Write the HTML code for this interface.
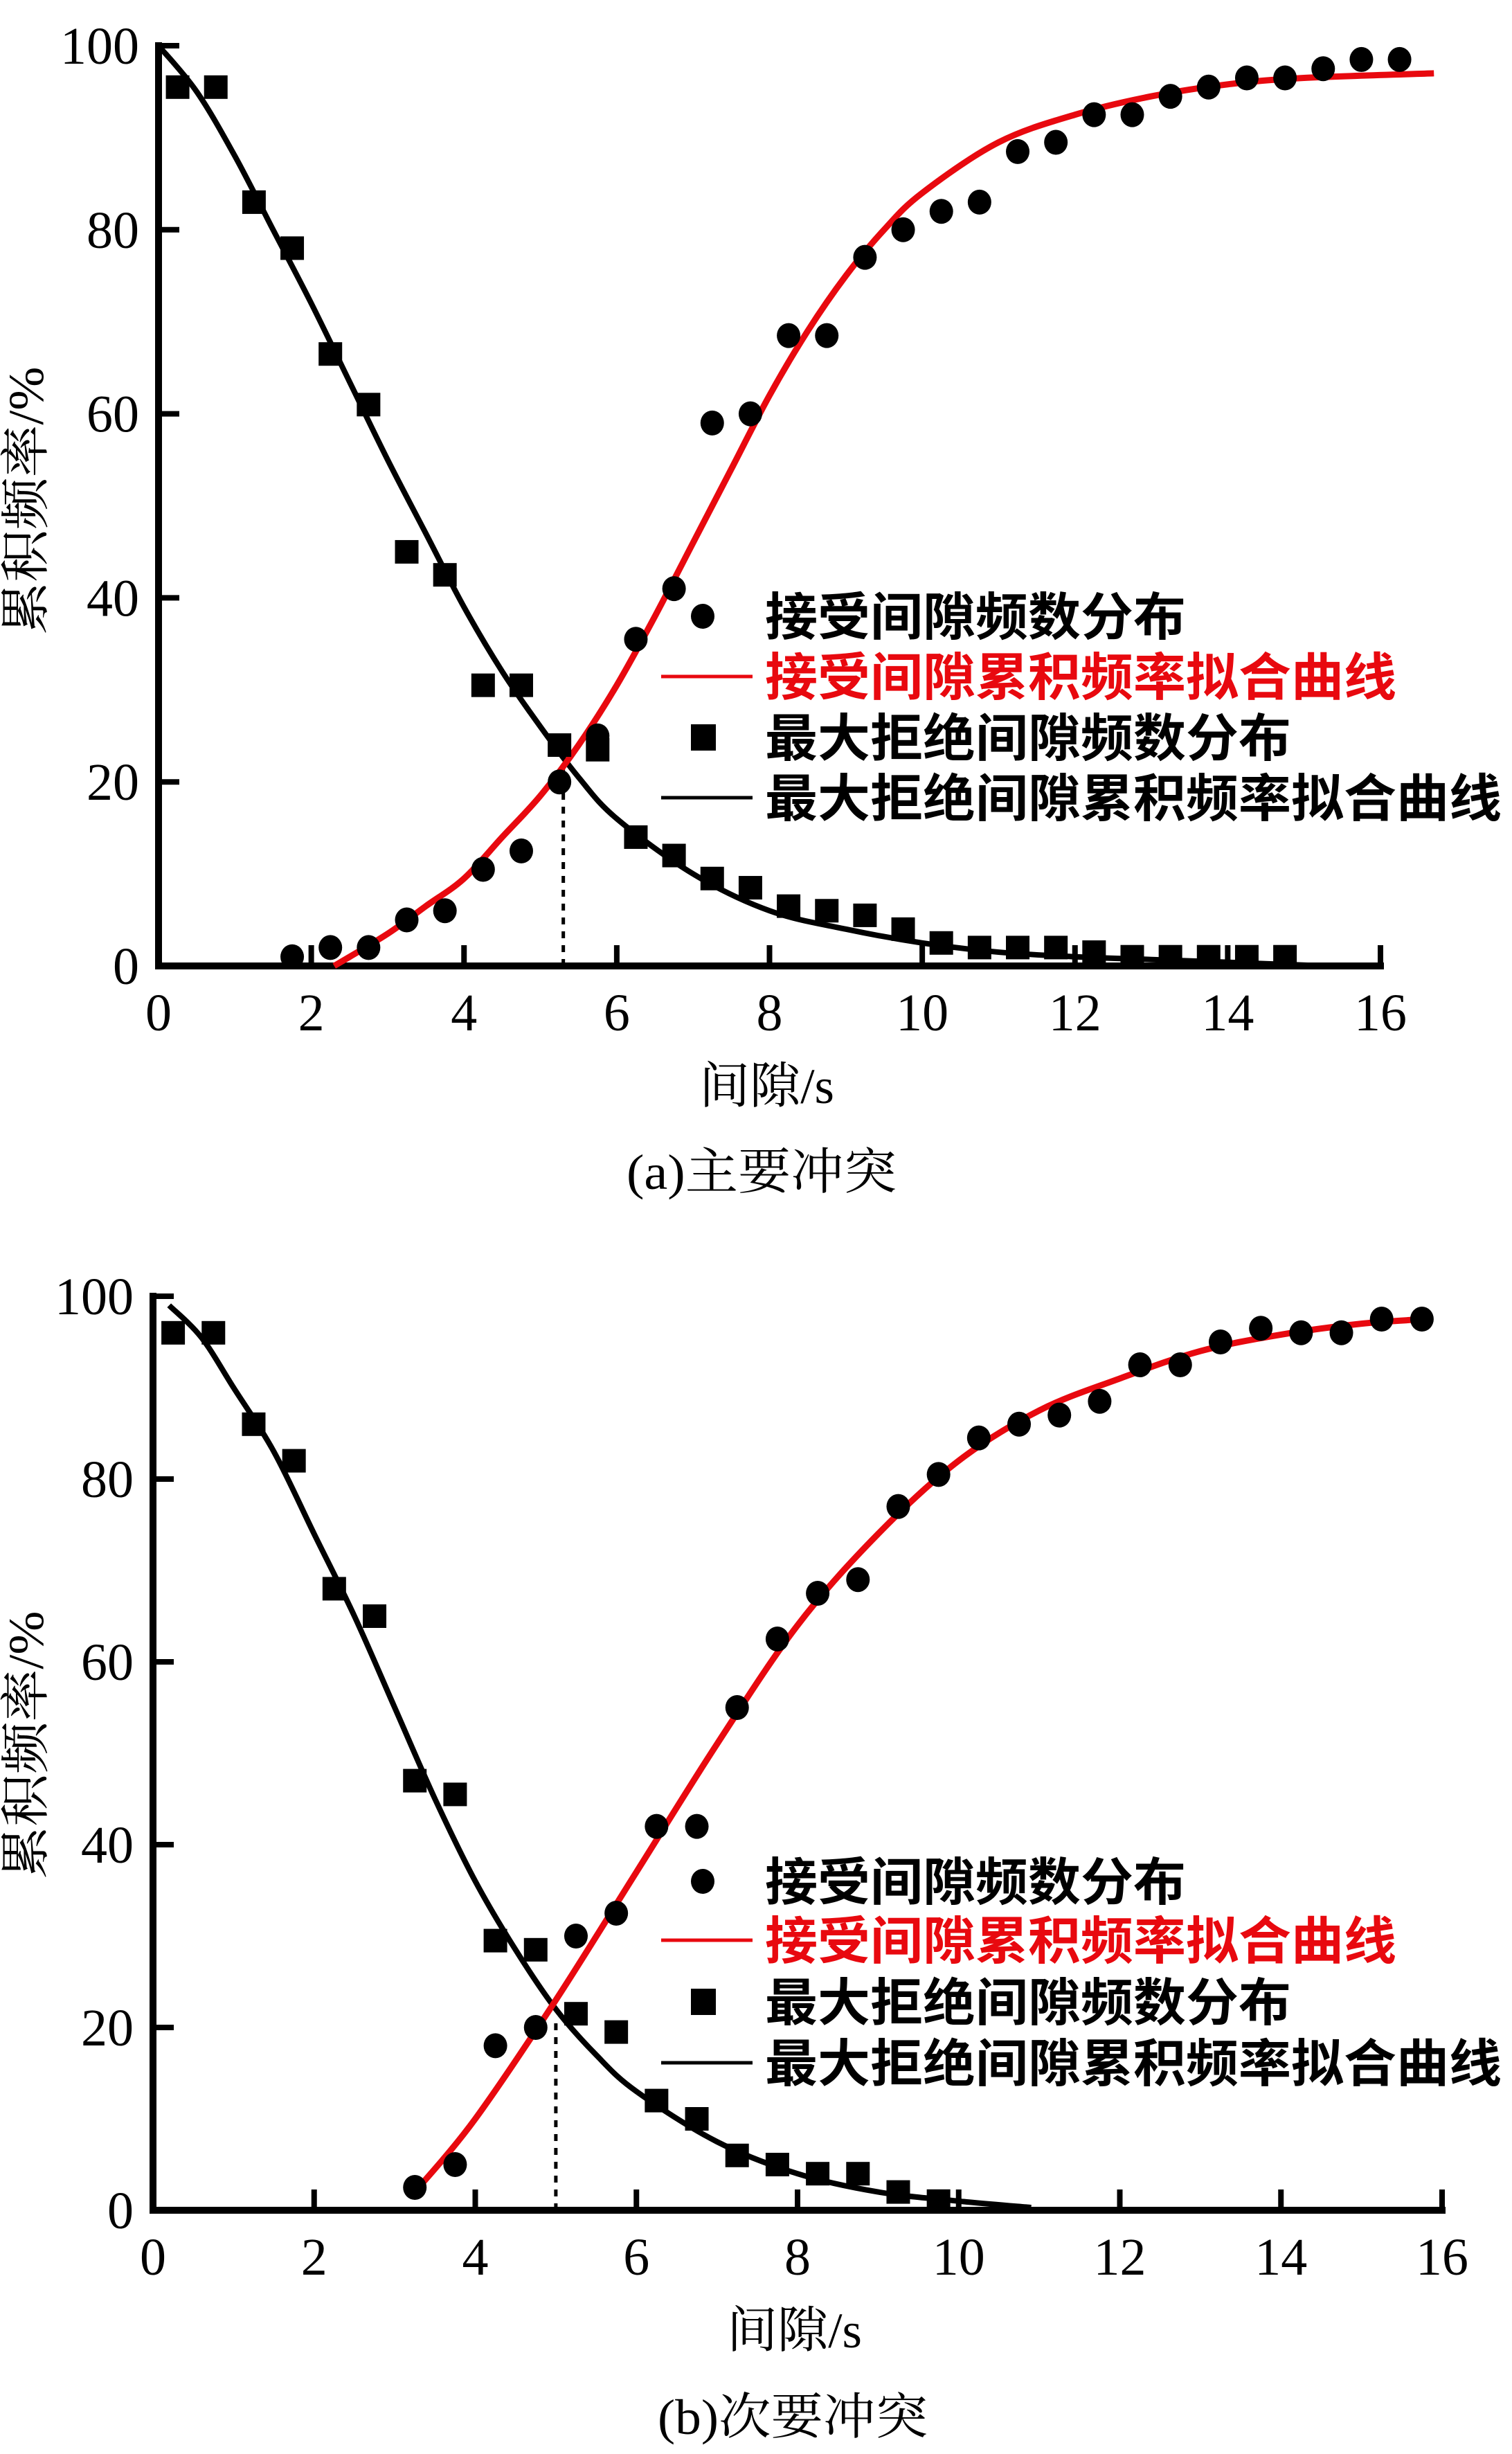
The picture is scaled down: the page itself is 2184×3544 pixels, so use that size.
<!DOCTYPE html>
<html><head><meta charset="utf-8"><style>
html,body{margin:0;padding:0;background:#fff;}
svg{display:block;}
.tk{font-family:"Liberation Serif",serif;font-size:76px;fill:#000;}
.lg{font-family:"Liberation Sans","Noto Sans CJK SC",sans-serif;font-size:74px;font-weight:bold;}
.cj{font-family:"Liberation Serif","Noto Serif CJK SC",serif;font-size:72px;fill:#000;}
</style></head><body>
<svg id="svg" width="2184" height="3544" viewBox="0 0 2184 3544" xmlns="http://www.w3.org/2000/svg"></svg>
<script>
// ---- Data: panel (a) ----
const xTicks = [0,2,4,6,8,10,12,14,16];
const yTicks = [0,20,40,60,80,100];
const aSqX = [0.25,0.75,1.25,1.75,2.25,2.75,3.25,3.75,4.25,4.75,5.25,5.75,6.25,6.75,7.25,7.75,8.25,8.75,9.25,9.75,10.25,10.75,11.25,11.75,12.25,12.75,13.25,13.75,14.25,14.75];
const aSqY = [95.5,95.5,83,78,66.5,61,45,42.5,30.5,30.5,24,23.5,14,12,9.5,8.5,6.5,6,5.5,4,2.5,2,2,2,1.5,1,1,1,1,1];
const aCiX = [1.75,2.25,2.75,3.25,3.75,4.25,4.75,5.25,5.75,6.25,6.75,7.25,7.75,8.25,8.75,9.25,9.75,10.25,10.75,11.25,11.75,12.25,12.75,13.25,13.75,14.25,14.75,15.25,15.75,16.25];
const aCiY = [1,2,2,5,6,10.5,12.5,20,25,35.5,41,59,60,68.5,68.5,77,80,82,83,88.5,89.5,92.5,92.5,94.5,95.5,96.5,96.5,97.5,98.5,98.5];
const aBlkX = [0,0.5,1,1.5,2,2.5,3,3.5,4,4.5,5,5.5,6,7,8,9,10,11,12,13,14,15.3];
const aBlkY = [100,95,88,80,72,63.5,55,47,39,32,26,20.5,16,10,6,4,2.5,1.5,1,0.7,0.4,0];
const aRedX = [2.3,3,3.5,4,4.5,5,5.5,6,6.5,7,7.5,8,8.5,9,9.5,10,11,12,13,14,15,16.7];
const aRedY = [0,3.5,6.5,9.5,14,18.5,24,30.5,38,46,54,62,69,75,80,84,89.5,92.5,94.5,95.8,96.5,97];
const aCross = [5.3, 22];
// ---- Data: panel (b) ----
const bSqX = [0.25,0.75,1.25,1.75,2.25,2.75,3.25,3.75,4.25,4.75,5.25,5.75,6.25,6.75,7.25,7.75,8.25,8.75,9.25,9.75];
const bSqY = [96,96,86,82,68,65,47,45.5,29.5,28.5,21.5,19.5,12,10,6,5,4,4,2,1];
const bCiX = [3.25,3.75,4.25,4.75,5.25,5.75,6.25,6.75,7.25,7.75,8.25,8.75,9.25,9.75,10.25,10.75,11.25,11.75,12.25,12.75,13.25,13.75,14.25,14.75,15.25,15.75];
const bCiY = [2.5,5,18,20,30,32.5,42,42,55,62.5,67.5,69,77,80.5,84.5,86,87,88.5,92.5,92.5,95,96.5,96,96,97.5,97.5];
const bBlkX = [0.2,0.6,1,1.5,2,2.5,3,3.5,4,4.5,5,5.5,6,7,8,9,10,10.9];
const bBlkY = [99,95.5,90,83,74,65,55,45,36,28.5,22,17,13,7.5,4,2,1,0.3];
const bRedX = [3.3,4,5,6,7,8,9,10,11,12,13,14,15,15.8];
const bRedY = [2.5,10,23,37,51,64,74,82,87.5,91,94,95.8,97,97.5];
const bCross = [5, 21];

const NS="http://www.w3.org/2000/svg";
const svg=document.getElementById('svg');
function mk(tag,attrs,parent){const e=document.createElementNS(NS,tag);for(const k in attrs)e.setAttribute(k,attrs[k]);(parent||svg).appendChild(e);return e;}
function smooth(pts){let d='M'+pts[0][0]+','+pts[0][1];for(let i=0;i<pts.length-1;i++){const p0=pts[Math.max(0,i-1)],p1=pts[i],p2=pts[i+1],p3=pts[Math.min(pts.length-1,i+2)];
const c1=[p1[0]+(p2[0]-p0[0])/6,p1[1]+(p2[1]-p0[1])/6],c2=[p2[0]-(p3[0]-p1[0])/6,p2[1]-(p3[1]-p1[1])/6];d+=' C'+c1+' '+c2+' '+p2;}return d;}

function panel(P){
  const X=v=>P.x0+(P.x1-P.x0)*v/16, Y=v=>P.y0-(P.y0-P.y100)*v/100;
  const g=mk('g',{});
  
  
  const ax=mk('path',{d:`M${X(0)},${Y(100)} V${Y(0)} H${X(16)}`,fill:'none',stroke:'#000','stroke-width':10,'stroke-linecap':'square'},g);
  
  
  xTicks.forEach(t=>{
    const l=mk('line',{x1:X(t),x2:X(t),y1:Y(0),y2:Y(0)-30,stroke:'#000','stroke-width':8},g);
    
    
    const tx=mk('text',{x:X(t),y:Y(0)+93,'text-anchor':'middle',class:'tk'},g);tx.textContent=t;
    
    
  });
  yTicks.forEach(t=>{
    const l=mk('line',{x1:X(0),x2:X(0)+30,y1:Y(t),y2:Y(t),stroke:'#000','stroke-width':8},g);
    
    
    const tx=mk('text',{x:X(0)-28,y:Y(t)+26,'text-anchor':'end',class:'tk'},g);tx.textContent=t;
    
    
  });
  const dl=mk('line',{x1:X(P.cross[0]),x2:X(P.cross[0]),y1:Y(0),y2:Y(P.cross[1]),stroke:'#000','stroke-width':5,'stroke-dasharray':'10,10'},g);
  
  
  const bp=smooth(P.blkX.map((x,i)=>[X(x),Y(P.blkY[i])]));
  const bc=mk('path',{d:bp,fill:'none',stroke:'#000','stroke-width':8},g);
  
  
  const rp=smooth(P.redX.map((x,i)=>[X(x),Y(P.redY[i])]));
  const rc=mk('path',{d:rp,fill:'none',stroke:'#e8090f','stroke-width':9},g);
  
  
  P.sqX.forEach((x,i)=>{
    const r=mk('rect',{x:X(x)-17,y:Y(P.sqY[i])-17,width:34,height:34,fill:'#000'},g);
    
    
  });
  P.ciX.forEach((x,i)=>{
    const c=mk('ellipse',{cx:X(x),cy:Y(P.ciY[i]),rx:17,ry:18,fill:'#000'},g);
    
    
  });
  const L=P.leg, tx=P.legX;
  const lc=mk('ellipse',{cx:tx-90,cy:L[0],rx:17,ry:18,fill:'#000'},g);
  
  
  const lr=mk('line',{x1:tx-150,x2:tx-18,y1:L[1],y2:L[1],stroke:'#e8090f','stroke-width':5},g);
  
  
  const ls=mk('rect',{x:tx-107,y:L[2]-19,width:36,height:38,fill:'#000'},g);
  
  
  const lb=mk('line',{x1:tx-150,x2:tx-18,y1:L[3],y2:L[3],stroke:'#000','stroke-width':5},g);
  
  
  const labels=['接受间隙频数分布','接受间隙累积频率拟合曲线','最大拒绝间隙频数分布','最大拒绝间隙累积频率拟合曲线'];
  labels.forEach((s,i)=>{
    const t=mk('text',{x:tx,y:L[i]+27,class:'lg',fill:i==1?'#e8090f':'#000',textLength:s.length*76,lengthAdjust:'spacingAndGlyphs'},g);t.textContent=s;
    
    
  });
  const yl=mk('text',{x:0,y:0,class:'cj','text-anchor':'middle',transform:`translate(${P.ylx},${P.yly}) rotate(-90)`,'font-size':68,textLength:387,lengthAdjust:'spacingAndGlyphs'},g);
  yl.textContent='累积频率/%';
  
  
  const xl=mk('text',{x:P.xlx,y:P.xly,class:'cj',textLength:195,lengthAdjust:'spacingAndGlyphs'},g);
  xl.textContent='间隙/s';
  
  
  const ti=mk('text',{x:P.tix,y:P.tiy,class:'cj',textLength:390,lengthAdjust:'spacingAndGlyphs'},g);
  ti.textContent=P.title;
  
  
}
panel({name:'panel-a',x0:229,x1:1994,y0:1395,y100:66,sqX:aSqX,sqY:aSqY,ciX:aCiX,ciY:aCiY,blkX:aBlkX,blkY:aBlkY,redX:aRedX,redY:aRedY,cross:aCross,
  leg:[890,977,1065,1152],legX:1105,ylx:62,yly:723,xlx:1010,xly:1593,tix:905,tiy:1717,title:'(a)主要冲突'});
panel({name:'panel-b',x0:221,x1:2083,y0:3192,y100:1872,sqX:bSqX,sqY:bSqY,ciX:bCiX,ciY:bCiY,blkX:bBlkX,blkY:bBlkY,redX:bRedX,redY:bRedY,cross:bCross,
  leg:[2717,2802,2891,2979],legX:1105,ylx:62,yly:2520,xlx:1050,xly:3390,tix:950,tiy:3515,title:'(b)次要冲突'});
</script>
</body></html>
